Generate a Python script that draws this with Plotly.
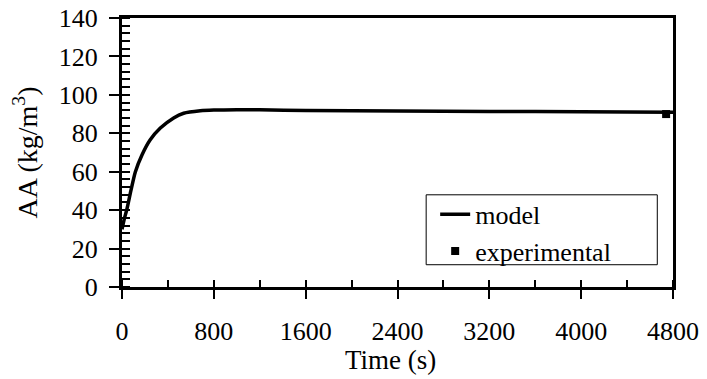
import plotly.graph_objects as go

# Model curve (time in s, AA in kg/m^3)
t_model = [0, 20, 43, 78, 116, 174, 246, 334, 450, 537, 682, 800, 1000, 1200,
           1600, 2400, 3200, 4000, 4800]
aa_model = [30.0, 35.5, 40.6, 50.3, 59.9, 68.7, 76.6, 82.7, 88.0, 90.4, 91.7,
            92.1, 92.3, 92.2, 91.9, 91.6, 91.4, 91.2, 91.0]

# Experimental point
t_exp = [4740]
aa_exp = [90.0]

x_ticks = [0, 800, 1600, 2400, 3200, 4000, 4800]
y_ticks = [0, 20, 40, 60, 80, 100, 120, 140]

FONT = '"Liberation Serif", "Times New Roman", Times, serif'

fig = go.Figure()
fig.add_trace(go.Scatter(x=t_model, y=aa_model, mode="lines", name="model",
                         line=dict(color="black", width=3.5, shape="spline", smoothing=0.6)))
fig.add_trace(go.Scatter(x=t_exp, y=aa_exp, mode="markers", name="experimental",
                         marker=dict(color="black", symbol="square", size=8),
                         cliponaxis=False))

# page body has an 8px default margin, so the figure is sized to fit inside
OFF = 8
W, H = 699, 371
L, T = 114, 10
R = W - (672.7 - OFF)
B = H - (287.3 - OFF)
pw = W - L - R
ph = H - T - B


def px(xp):  # page x -> paper x
    return (xp - OFF - L) / pw


def py(yp):  # page y -> paper y
    return (H - B - (yp - OFF)) / ph


fig.update_layout(
    template="none",
    width=W, height=H,
    margin=dict(l=L, r=R, t=T, b=B, pad=0, autoexpand=False),
    paper_bgcolor="white", plot_bgcolor="white",
    font=dict(family=FONT, size=26, color="black"),
    showlegend=True,
    legend=dict(x=px(435), y=py(191), xanchor="left", yanchor="top",
                borderwidth=0, bgcolor="rgba(0,0,0,0)",
                font=dict(family=FONT, size=26, color="black"),
                tracegroupgap=0, itemwidth=30),
    shapes=[dict(type="rect", xref="paper", yref="paper",
                 x0=px(426), x1=px(657), y0=py(265), y1=py(195),
                 line=dict(color="black", width=1), fillcolor="white", layer="below")],
    xaxis=dict(range=[0, 4800], tickvals=x_ticks, ticktext=[str(v) for v in x_ticks],
               automargin=False, ticklabeloverflow="allow",
               tickfont=dict(family=FONT, size=26, color="black"),
               showline=True, linecolor="black", linewidth=3, mirror=True,
               ticks="outside", ticklen=9, tickwidth=1.5, tickcolor="black",
               ticklabelstandoff=10,
               minor=dict(ticks="inside", dtick=400, ticklen=7, tickwidth=1.5, tickcolor="black",
                          showgrid=False),
               showgrid=False, zeroline=False),
    yaxis=dict(range=[0, 140], tickvals=y_ticks, ticktext=[str(v) for v in y_ticks],
               automargin=False, ticklabeloverflow="allow",
               tickfont=dict(family=FONT, size=26, color="black"),
               showline=True, linecolor="black", linewidth=3, mirror=True,
               ticks="outside", ticklen=10, tickwidth=1.5, tickcolor="black",
               ticklabelstandoff=6,
               minor=dict(ticks="inside", dtick=4, ticklen=8, tickwidth=1.5, tickcolor="black",
                          showgrid=False),
               showgrid=False, zeroline=False),
    annotations=[
        dict(text="AA (kg/m<sup>3</sup>)", xref="paper", yref="paper",
             x=px(26), y=0.5, xanchor="center", yanchor="middle",
             textangle=-90, showarrow=False, font=dict(family=FONT, size=28, color="black")),
        dict(text="Time (s)", xref="paper", yref="paper",
             x=px(390), y=py(360), xanchor="center", yanchor="middle",
             showarrow=False, font=dict(family=FONT, size=27, color="black")),
    ],
)

fig.write_html("out.html")
